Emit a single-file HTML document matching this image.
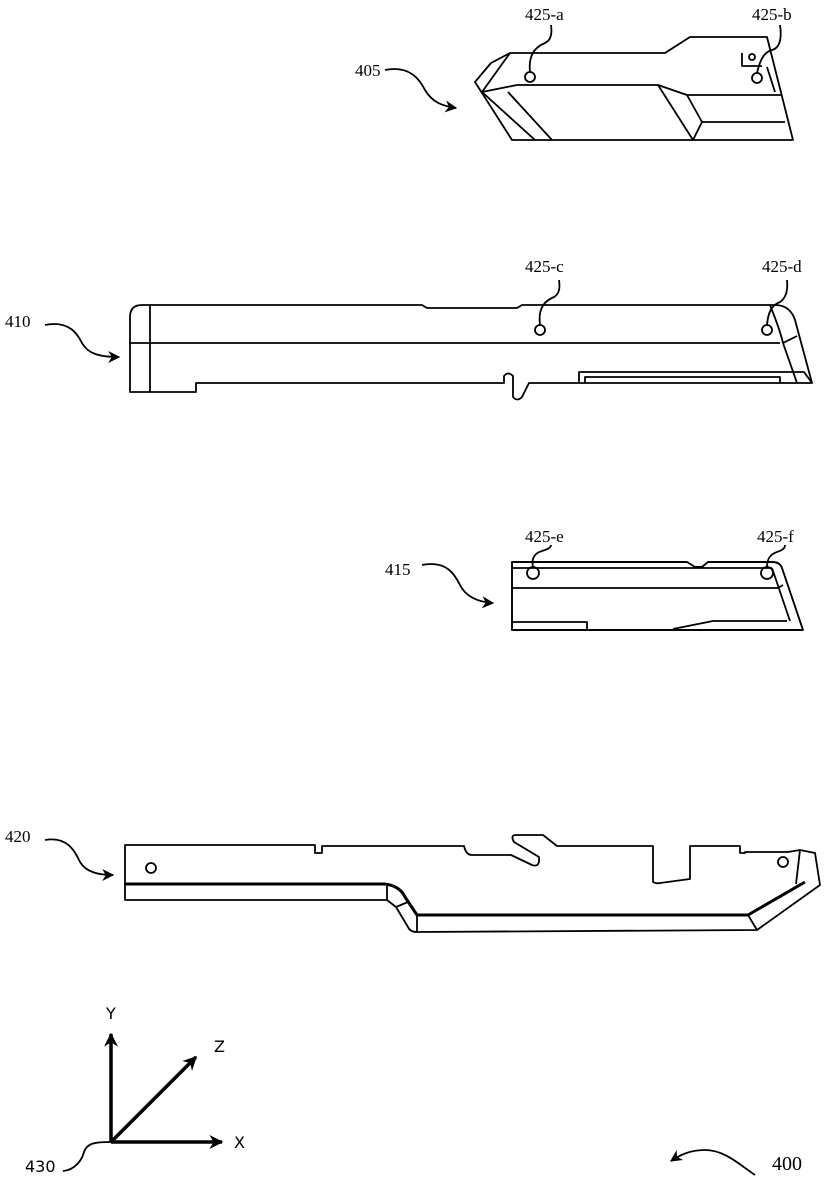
<!DOCTYPE html>
<html><head><meta charset="utf-8"><style>
html,body{margin:0;padding:0;background:#fff}
svg{display:block}
.t{font-family:"Liberation Serif",serif;font-size:17px;fill:#000}
.s{font-family:"DejaVu Sans","Liberation Sans",sans-serif;font-size:16px;fill:#000}
</style></head><body>
<svg width="826" height="1200" viewBox="0 0 826 1200" xmlns="http://www.w3.org/2000/svg">
<defs>
<marker id="ah" viewBox="0 0 10 10" refX="9" refY="5" markerWidth="12" markerHeight="12" orient="auto" markerUnits="userSpaceOnUse"><path d="M0,0 L10,5 L0,10 L3,5 Z" fill="#000"/></marker>
<marker id="ax" viewBox="0 0 10 10" refX="9" refY="5" markerWidth="14" markerHeight="14" orient="auto" markerUnits="userSpaceOnUse"><path d="M0,0 L10,5 L0,10 L3,5 Z" fill="#000"/></marker>
</defs>
<g fill="none" stroke="#000" stroke-width="1.8" stroke-linejoin="round">
<!-- 405 -->
<path d="M475,82 L491,63 L510,53 L665,53 L690,37 L767,37 L793,140 L512,140 Z"/>
<path d="M510,53 L482,92 L517,85 L658,85 L687,95 L782,95"/>
<path d="M482,92 L535,140 M508,92 L552,140 M658,85 L693,140 L702,122 L687,95 M702,122 L785,122"/>
<path d="M742,53 L742,66 L762,66 M767,67 L775,92"/>
<circle cx="752" cy="57" r="3"/>
<circle cx="530" cy="77" r="5"/><circle cx="757" cy="78" r="5"/>
<path d="M530,72 C528,55 535,47 545,43 C552,40 552,32 551,25"/>
<path d="M757,73 C760,60 764,52 772,50 C780,48 782,38 780,25"/>
<!-- 410 -->
<path d="M142,305 L422,305 L427,308 L517,308 L522,305 L775,305 Q790,305 795,320 L812,383 L529,383 L522,397 Q517,402 513,397 L513,376 Q508,371 504,376 L504,383 L196,383 L196,392 L130,392 L130,317 Q130,305 142,305 Z"/>
<path d="M150,305 L150,392 M130,343 L780,343 M770,305 Q780,330 783,343 L797,383"/>
<path d="M783,343 L797,336 M579,383 L579,372 L804,372 L812,383 M585,383 L585,377 L780,377 L780,383"/>
<circle cx="540" cy="330" r="5"/><circle cx="767" cy="330" r="5"/>
<path d="M540,325 C538,310 543,302 552,298 C560,295 560,287 559,280"/>
<path d="M767,325 C768,312 772,305 780,302 C786,298 788,290 787,280"/>
<!-- 415 -->
<path d="M512,562 L687,562 L695,567 L702,567 L708,562 L772,562 Q780,562 782,568 L803,630 L512,630 Z" stroke-width="1.9"/>
<path d="M512,568 L772,568 M512,588 L778,588 M512,622 L587,622 L587,630 M673,629 L713,621 L787,621 M772,568 L790,621 M778,588 L783,585"/>
<circle cx="533" cy="573" r="6"/><circle cx="767" cy="573" r="6"/>
<path d="M533,567 C531,558 535,553 542,551 C549,549 551,547 551,545"/>
<path d="M767,567 C767,558 771,554 777,552 C783,550 785,548 785,545"/>
<!-- 420 -->
<path d="M125,845 L315,845 L315,853 L322,853 L322,846 L464,846 Q466,855 472,855 L511,855 L532,865 Q540,868 539,857 L514,842 Q510,835 516,835 L543,835 L557,846 L653,846 L653,882 Q657,884 660,883 L690,879 L690,846 L740,846 L740,853 L745,853 L745,852 L788,852 L800,850 L815,853 L820,885 L757,930 L417,932 Q410,932 408,927 L396,907 L387,900 L125,900 Z"/>
<path d="M125,884 L385,884 Q400,886 405,897 L417,915 L748,915 L805,882" stroke-width="3"/>
<path d="M387,886 L387,900 M396,907 L408,902 M417,915 L417,932 M748,915 L757,930 M800,850 L796,884"/>
<circle cx="151" cy="868" r="5"/><circle cx="783" cy="862" r="5"/>
<!-- leader arrows -->
<path d="M385,70 C410,65 420,80 425,90 C432,102 442,106 456,108" marker-end="url(#ah)"/>
<path d="M45,325 C70,320 78,335 82,343 C88,354 100,357 119,357" marker-end="url(#ah)"/>
<path d="M422,565 C447,560 455,575 460,585 C466,597 478,602 493,603" marker-end="url(#ah)"/>
<path d="M45,840 C68,836 75,852 80,862 C86,872 98,875 113,875" marker-end="url(#ah)"/>
<path d="M755,1175 C740,1165 725,1150 705,1150 C690,1150 680,1155 671,1161" marker-end="url(#ah)"/>
<path d="M63,1171 C75,1170 82,1160 84,1152 C87,1143 95,1142 111,1142"/>
</g>
<!-- axes -->
<g stroke="#000" stroke-width="3.5" fill="none">
<line x1="111" y1="1142" x2="111" y2="1034" marker-end="url(#ax)"/>
<line x1="111" y1="1142" x2="222" y2="1142" marker-end="url(#ax)"/>
<line x1="111" y1="1142" x2="196" y2="1057" marker-end="url(#ax)"/>
</g>
<text class="s" x="106" y="1019">Y</text>
<text class="s" x="214" y="1052">Z</text>
<text class="s" x="234" y="1148">X</text>
<text class="s" x="25" y="1172">430</text>
<g class="t">
<text x="355" y="76">405</text>
<text x="525" y="20">425-a</text>
<text x="752" y="20">425-b</text>
<text x="5" y="327">410</text>
<text x="525" y="272">425-c</text>
<text x="762" y="272">425-d</text>
<text x="385" y="575">415</text>
<text x="525" y="542">425-e</text>
<text x="757" y="542">425-f</text>
<text x="5" y="842">420</text>
<text x="772" y="1170" style="font-size:20px">400</text>
</g>
</svg>
</body></html>
